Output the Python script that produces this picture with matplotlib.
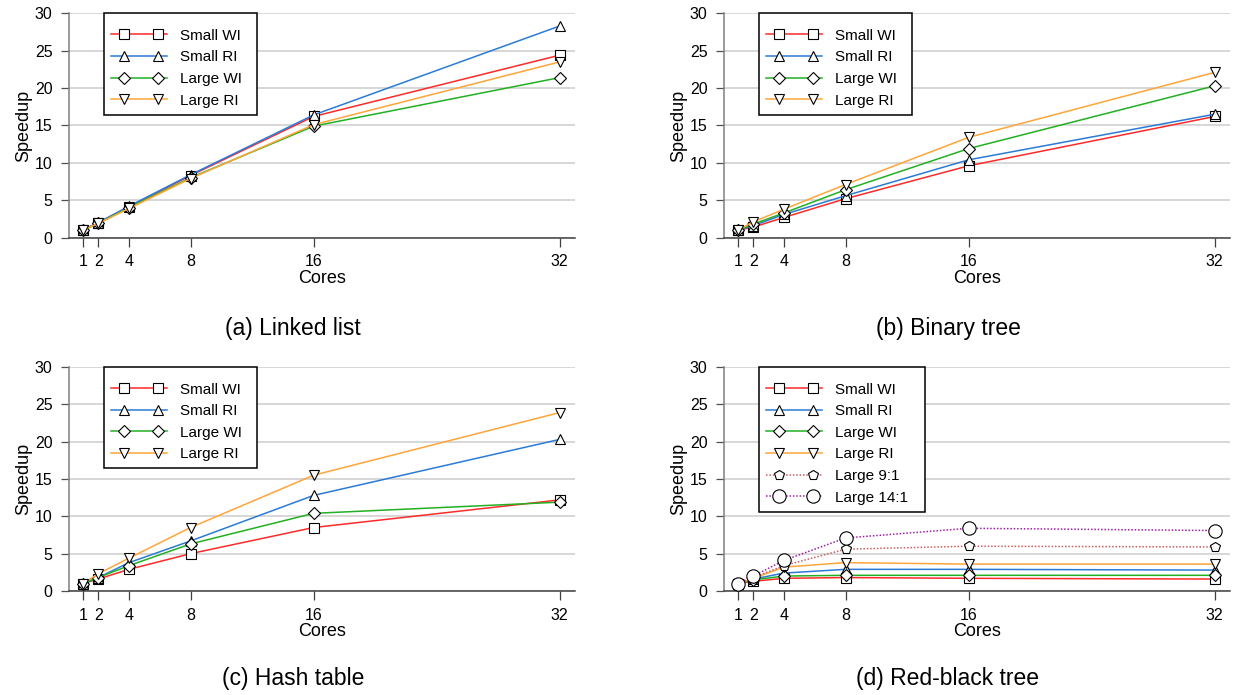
import matplotlib
matplotlib.use("Agg")
import matplotlib.pyplot as plt
from matplotlib.legend_handler import HandlerLine2D
from matplotlib.lines import Line2D
import numpy as np

plt.rcParams['font.family'] = ['Liberation Sans', 'DejaVu Sans']

cores = [1, 2, 4, 8, 16, 32]
xtick_labels = ["1", "2", "4", "8", "16", "32"]
yticks = [0, 5, 10, 15, 20, 25, 30]

series_names = ["Small WI", "Small RI", "Large WI", "Large RI", "Large 9:1", "Large 14:1"]

# (a) Linked list
ll_small_wi = [1.0, 2.0, 4.1, 8.3, 16.2, 24.4]
ll_small_ri = [1.0, 2.0, 4.2, 8.4, 16.4, 28.3]
ll_large_wi = [1.0, 1.9, 4.0, 8.0, 14.9, 21.4]
ll_large_ri = [1.0, 1.9, 3.9, 7.9, 15.1, 23.5]

# (b) Binary tree
bt_small_wi = [1.0, 1.4, 2.7, 5.2, 9.6, 16.2]
bt_small_ri = [1.0, 1.6, 3.1, 5.6, 10.4, 16.5]
bt_large_wi = [1.0, 1.8, 3.3, 6.4, 11.9, 20.3]
bt_large_ri = [1.0, 2.1, 3.8, 7.1, 13.4, 22.1]

# (c) Hash table
ht_small_wi = [1.0, 1.6, 2.9, 5.0, 8.5, 12.2]
ht_small_ri = [1.0, 1.8, 3.8, 6.7, 12.8, 20.3]
ht_large_wi = [1.0, 1.8, 3.4, 6.3, 10.4, 11.9]
ht_large_ri = [1.0, 2.3, 4.4, 8.5, 15.5, 23.9]

# (d) Red-black tree
rb_small_wi = [1.0, 1.3, 1.7, 1.8, 1.7, 1.6]
rb_small_ri = [1.0, 1.6, 2.4, 2.9, 2.9, 2.8]
rb_large_wi = [1.0, 1.5, 2.0, 2.1, 2.1, 2.1]
rb_large_ri = [1.0, 1.7, 3.2, 3.8, 3.6, 3.6]
rb_large_91 = [1.0, 1.8, 3.4, 5.6, 6.0, 5.9]
rb_large_141 = [1.0, 2.0, 4.1, 7.1, 8.4, 8.1]

captions = ["(a) Linked list", "(b) Binary tree", "(c) Hash table", "(d) Red-black tree"]

colors = ["#FF2A2A", "#2B7BD6", "#22B022", "#FFA53A", "#C86060", "#A020A8"]
markers = ["s", "^", "D", "v", "p", "o"]
msizes = [6.6, 7.4, 5.9, 7.4, 7.8, 9.6]
lstyles = ["-", "-", "-", "-", (0, (1, 1.2)), (0, (1, 1.2))]

panels = [
    [ll_small_wi, ll_small_ri, ll_large_wi, ll_large_ri],
    [bt_small_wi, bt_small_ri, bt_large_wi, bt_large_ri],
    [ht_small_wi, ht_small_ri, ht_large_wi, ht_large_ri],
    [rb_small_wi, rb_small_ri, rb_large_wi, rb_large_ri, rb_large_91, rb_large_141],
]


class FullLineHandler(HandlerLine2D):
    """Line spans the full handle; two markers are inset from the ends."""
    def create_artists(self, legend, orig_handle, xdescent, ydescent,
                       width, height, fontsize, trans):
        y = (height - ydescent) / 2
        pad_l = 0.85 * fontsize
        pad_r = 0.55 * fontsize
        line = Line2D([-xdescent, -xdescent + width], [y, y])
        self.update_prop(line, orig_handle, legend)
        line.set_marker('None')
        line.set_drawstyle('default')
        mk = Line2D(np.array([-xdescent + pad_l, -xdescent + width - pad_r]), [y, y])
        self.update_prop(mk, orig_handle, legend)
        mk.set_linestyle('None')
        line.set_transform(trans)
        mk.set_transform(trans)
        return [line, mk]


W, H = 1233, 695
fig = plt.figure(figsize=(W / 100, H / 100), dpi=100)

# pixel boxes (left, right, top, bottom)
boxes = [
    (69, 575, 13.3, 237.6),
    (724, 1230, 13.3, 237.6),
    (69, 575, 367, 591),
    (724, 1230, 367, 591),
]
legend_w = [153, 153, 153, 166]
caption_y = [328, 679]

for i, (box, data) in enumerate(zip(boxes, panels)):
    l, r, t, b = box
    ax = fig.add_axes([l / W, 1 - b / H, (r - l) / W, (b - t) / H])
    ax.set_xlim(0.1, 33)
    ax.set_ylim(0, 30)
    ax.set_yticks(yticks)
    ax.set_xticks(cores)
    ax.set_xticklabels(xtick_labels)
    ax.grid(axis='y', color='#CDCDCD', linewidth=1.1, zorder=0)
    ax.set_axisbelow(True)
    for s in ['top', 'right']:
        ax.spines[s].set_visible(False)
    ax.spines['left'].set_color('#808080')
    ax.spines['left'].set_linewidth(1.1)
    ax.spines['bottom'].set_color('#404040')
    ax.spines['bottom'].set_linewidth(1.1)
    ax.tick_params(axis='x', direction='out', length=6.5, width=0.9, color='#404040',
                   pad=5.5, labelsize=11.5)
    ax.tick_params(axis='y', direction='out', length=5.8, width=0.9, color='#505050',
                   pad=6.0, labelsize=11.5)
    ax.set_xlabel("Cores", fontsize=13, labelpad=0.5)
    ax.set_ylabel("Speedup", fontsize=13, labelpad=2)
    handles = []
    for k, ys in enumerate(data):
        ln, = ax.plot(cores, ys, color=colors[k], linestyle=lstyles[k], linewidth=1.1,
                      marker=markers[k], markersize=msizes[k], markerfacecolor='white',
                      markeredgecolor='black', markeredgewidth=0.8, label=series_names[k],
                      clip_on=False, zorder=3)
        handles.append(ln)
    lw_frac = legend_w[i] / (r - l)
    leg = ax.legend(handles=handles, loc='upper left',
                    bbox_to_anchor=(0.069, 0.0, lw_frac, 1.0), mode='expand',
                    borderaxespad=0, fontsize=11, frameon=True, fancybox=False,
                    framealpha=1, edgecolor='black', handlelength=3.65,
                    handletextpad=0.85, labelspacing=0.5, borderpad=0.45,
                    title=' ', title_fontsize=1,
                    handler_map={h: FullLineHandler() for h in handles})
    leg.get_frame().set_linewidth(1.1)
    leg.set_zorder(5)
    cx = (l + r) / 2 - 29
    cy = caption_y[i // 2]
    fig.text(cx / W, 1 - cy / H, captions[i], ha='center', va='center', fontsize=16.5)

fig.savefig("out.png", dpi=100)
